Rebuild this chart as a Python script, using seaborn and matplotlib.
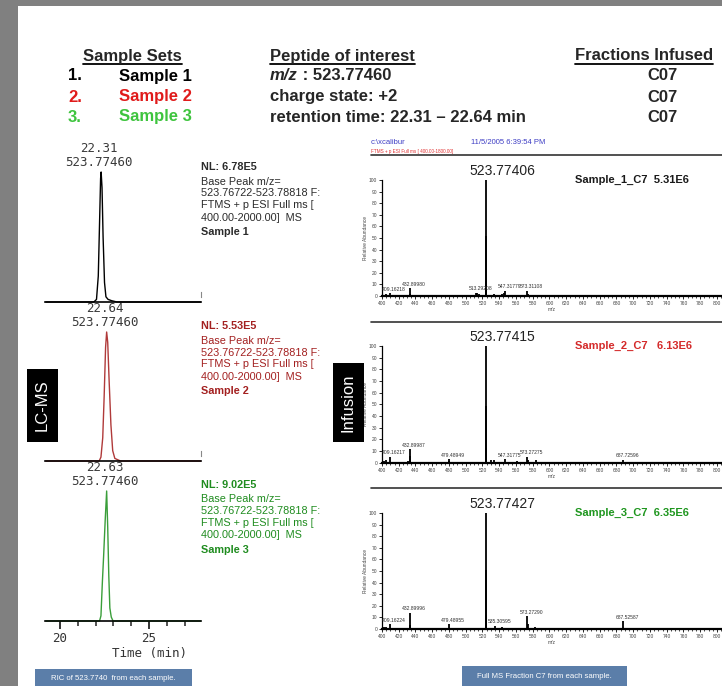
import matplotlib
matplotlib.use("Agg")
import matplotlib.pyplot as plt
import matplotlib.ticker as ticker
from matplotlib.patches import Rectangle
from matplotlib.lines import Line2D
import numpy as np
import seaborn as sns

sns.set_style("white")
plt.rcParams['font.family'] = ['Liberation Sans', 'DejaVu Sans']

W, H = 722, 686

# ---- header ----
sample_names = ["Sample 1", "Sample 2", "Sample 3"]
sample_colors = ["black", "#e01b1b", "#3ec43e"]
peptide_mz = "523.77460"
peptide_lines = ["charge state: +2", "retention time: 22.31 \u2013 22.64 min"]
fractions = ["C07", "C07", "C07"]

# ---- LC-MS chromatograms (RIC of 523.7740), time in min, relative intensity ----
rt_s1 = [19.2, 21.9, 22.05, 22.15, 22.22, 22.28, 22.31, 22.36, 22.42, 22.5, 22.58, 22.7, 22.9, 23.2, 27.9]
int_s1 = [0, 0, 2, 20, 60, 95, 100, 88, 50, 15, 4, 2, 1, 0, 0]
rt_s2 = [19.2, 22.2, 22.3, 22.4, 22.48, 22.56, 22.62, 22.68, 22.76, 22.86, 22.96, 23.08, 23.4, 27.9]
int_s2 = [0, 0, 3, 18, 50, 88, 100, 92, 62, 28, 8, 2, 0, 0]
rt_s3 = [19.2, 22.22, 22.3, 22.38, 22.45, 22.54, 22.62, 22.68, 22.74, 22.8, 22.88, 22.98, 27.9]
int_s3 = [0, 0, 4, 30, 50, 78, 100, 72, 35, 10, 3, 0, 0]
apex_rt = [22.31, 22.63, 22.62]
apex_labels = ["22.31", "22.64", "22.63"]
nl_values = ["NL: 6.78E5", "NL: 5.53E5", "NL: 9.02E5"]
scan_lines = ["Base Peak m/z=", "523.76722-523.78818 F:", "FTMS + p ESI Full ms [", "400.00-2000.00]  MS"]
trace_colors = ["black", "#b03a3a", "#3a9e3a"]
nl_colors = ["#2b2b2b", "#a32020", "#1f8c1f"]

# ---- infusion spectra (fraction C7), m/z and relative abundance ----
mz_s1 = [405.2, 409.16, 420.3, 432.90, 433.40, 470.1, 487.3, 511.8, 513.29, 516.3, 523.77, 524.27,
         524.78, 534.3, 543.2, 545.3, 547.32, 560.4, 573.31, 574.3]
ab_s1 = [1.8, 2.2, 1.0, 6.5, 2.0, 0.7, 0.7, 2.8, 2.5, 1.5, 100, 52, 13, 1.5, 1.5, 2.8, 4.6, 1.0, 4.4, 1.5]
mz_s2 = [402.0, 405.3, 409.16, 420.2, 430.5, 432.90, 433.40, 479.49, 480.0, 512.0, 523.78, 524.27,
         524.78, 530.3, 534.2, 547.32, 548.3, 561.0, 573.27, 574.3, 583.3, 687.73, 688.2, 712.0, 783.0]
ab_s2 = [1.5, 2.0, 5.0, 1.0, 1.5, 11.5, 5.5, 3.0, 1.2, 1.0, 100, 49, 13, 2.0, 2.0, 3.0, 1.0, 1.5,
         5.0, 2.5, 2.0, 2.5, 1.0, 1.0, 0.8]
mz_s3 = [402.0, 405.3, 409.16, 420.5, 430.3, 432.90, 433.40, 479.49, 480.5, 500.4, 510.3, 523.77,
         524.27, 524.78, 535.31, 536.3, 543.3, 545.3, 560.0, 573.27, 574.3, 583.2, 687.53, 688.0, 709.8, 783.0]
ab_s3 = [1.5, 1.5, 4.0, 1.0, 1.0, 14.0, 3.5, 4.0, 1.0, 1.0, 1.2, 100, 51, 12, 2.5, 1.0, 1.5, 1.2,
         1.0, 11.0, 4.0, 1.5, 6.6, 1.0, 1.0, 0.7]
peak_labels_s1 = ["409.16218", "432.89980", "513.29208", "547.31779", "573.31108"]
peak_labels_s2 = ["409.16217", "432.89987", "479.48949", "547.31775", "573.27275", "687.72596"]
peak_labels_s3 = ["409.16224", "432.89996", "479.48955", "535.30595", "573.27290", "687.52587"]
base_peak_labels = ["523.77406", "523.77415", "523.77427"]
spec_titles = ["Sample_1_C7  5.31E6", "Sample_2_C7   6.13E6", "Sample_3_C7  6.35E6"]
spec_title_colors = ["#1a1a1a", "#d42a2a", "#1e961e"]


def fx(x):
    return x / W


def fy(y):
    return 1 - y / H


def box(x0, y0, x1, y1):
    # pixel box -> [left, bottom, width, height] in figure fraction
    return [fx(x0), fy(y1), (x1 - x0) / W, (y1 - y0) / H]


fig = plt.figure(figsize=(W / 100, H / 100), dpi=100)
fig.patch.set_facecolor("#808080")
fig.add_artist(Rectangle((fx(18), 0), 1, fy(6), transform=fig.transFigure, facecolor="white",
                         edgecolor="none", zorder=-10))

# header block
hdr = dict(fontsize=12, weight="bold", va="center")
heads = [fig.text(fx(83), fy(56), "Sample Sets", **hdr),
         fig.text(fx(270), fy(56), "Peptide of interest", **hdr),
         fig.text(fx(575), fy(56), "Fractions Infused", **hdr)]
rows_y = [76, 97, 117]
for i, (name, col) in enumerate(zip(sample_names, sample_colors)):
    fig.text(fx(68), fy(rows_y[i]), f"{i + 1}.", color=col, **hdr)
    fig.text(fx(119), fy(rows_y[i]), name, color=col, **hdr)
    fig.text(fx(662), fy(rows_y[i]), fractions[i], ha="center", **hdr)
mz_txt = fig.text(fx(270), fy(rows_y[0]), "m/z", style="italic", **hdr)
for j, line in enumerate(peptide_lines):
    fig.text(fx(270), fy(rows_y[j + 1]), line, **hdr)

fig.canvas.draw()
rend = fig.canvas.get_renderer()
bb = mz_txt.get_window_extent(rend)
fig.text(bb.x1 / W, fy(rows_y[0]), " : " + peptide_mz, **hdr)
for t in heads:
    b = t.get_window_extent(rend)
    fig.add_artist(Line2D([b.x0 / W, b.x1 / W], [fy(63.5)] * 2, color="black", lw=1.3))

# chromatograms
chrom = [(rt_s1, int_s1), (rt_s2, int_s2), (rt_s3, int_s3)]
chrom_top = [172, 332, 491]
chrom_bot = [302, 461, 621]
nl_y = [167, 326, 485]
nl_off = [0, 14.5, 26.5, 38.5, 50.5, 65]
mono = "DejaVu Sans Mono"
for i, (rt, inten) in enumerate(chrom):
    ax = fig.add_axes(box(45, chrom_top[i], 201, chrom_bot[i]))
    sns.lineplot(x=rt, y=inten, ax=ax, color=trace_colors[i], lw=1.0, clip_on=False)
    ax.set_xlim(19.157, 27.92)
    ax.set_ylim(0, 100)
    ax.set_facecolor("none")
    for s in ["left", "top"]:
        ax.spines[s].set_visible(False)
    ax.spines["bottom"].set_color("black")
    ax.spines["bottom"].set_linewidth(1.2)
    ax.set_yticks([])
    ax.set_ylabel("")
    if i < 2:
        ax.spines["right"].set_bounds(4, 8)
        ax.spines["right"].set_color("#888888")
        ax.spines["right"].set_linewidth(0.8)
        ax.set_xticks([])
    else:
        ax.spines["right"].set_visible(False)
        ax.xaxis.set_major_locator(ticker.FixedLocator([20, 25]))
        ax.xaxis.set_minor_locator(ticker.FixedLocator([21, 22, 23, 24, 26, 27]))
        ax.tick_params(axis="x", which="major", bottom=True, length=6, width=1.4, pad=2,
                       labelsize=9, colors="#333333")
        ax.tick_params(axis="x", which="minor", bottom=True, length=3.5, width=1.2, color="#333333")
        for lab in ax.get_xticklabels():
            lab.set_family(mono)
        ax.set_xlabel("Time (min)", family=mono, fontsize=9, color="#333333")
        ax.xaxis.set_label_coords((149 - 45) / 156, -(653 - 621) / 130)
        ax.xaxis.label.set_va("center")
    ax.annotate(apex_labels[i] + "\n" + peptide_mz, xy=(apex_rt[i], 100), xytext=(-1.5, 2),
                textcoords="offset points", ha="center", va="bottom", family=mono, fontsize=9,
                color="#3a3a3a", linespacing=1.15, annotation_clip=False)
    # scan info block
    fig.text(fx(201), fy(nl_y[i] + nl_off[0]), nl_values[i], color=nl_colors[i], fontsize=7.8,
             weight="bold", va="center")
    for k, line in enumerate(scan_lines):
        fig.text(fx(201), fy(nl_y[i] + nl_off[k + 1]), line, color=nl_colors[i], fontsize=7.8, va="center")
    fig.text(fx(201), fy(nl_y[i] + nl_off[5]), sample_names[i], color=nl_colors[i], fontsize=7.8,
             weight="bold", va="center")

# side labels
for (x0, y0, x1, y1), lbl in [((27, 369, 58, 442), "LC-MS"), ((333, 363, 364, 442), "Infusion")]:
    fig.add_artist(Rectangle((fx(x0), fy(y1)), (x1 - x0) / W, (y1 - y0) / H, transform=fig.transFigure,
                             facecolor="black", edgecolor="none"))
    fig.text(fx((x0 + x1) / 2), fy((y0 + y1) / 2), lbl, rotation=90, color="white", fontsize=12,
             ha="center", va="center")

# spectrum header text
fig.text(fx(371), fy(142), "c:\\xcalibur", color="#3d3dc4", fontsize=5.5, va="center")
fig.text(fx(471), fy(142), "11/5/2005 6:39:54 PM", color="#3d3dc4", fontsize=5.5, va="center")
fig.text(fx(371), fy(151.5), "FTMS + p ESI Full ms [ 400.00-1800.00]", color="#e03030", fontsize=3.3,
         va="center")
for y in [155, 322, 488]:
    fig.add_artist(Line2D([fx(371), 1], [fy(y)] * 2, color="#333333", lw=1.2))

# spectra
spectra = [(mz_s1, ab_s1, peak_labels_s1), (mz_s2, ab_s2, peak_labels_s2), (mz_s3, ab_s3, peak_labels_s3)]
spec_top = [180, 346, 513]
spec_bot = [296, 462.7, 629]
for i, (mz, ab, labels) in enumerate(spectra):
    ax = fig.add_axes(box(382, spec_top[i], 722, spec_bot[i]))
    ax.set_facecolor("none")
    ax.vlines(mz, 0, ab, color="black", lw=1.3)
    ax.set_xlim(400, 806)
    ax.set_ylim(0, 100)
    for s in ["top", "right"]:
        ax.spines[s].set_visible(False)
    ax.spines["left"].set_linewidth(0.9)
    ax.spines["bottom"].set_linewidth(1.6)
    ax.spines["left"].set_color("black")
    ax.spines["bottom"].set_color("black")
    ax.xaxis.set_major_locator(ticker.MultipleLocator(20))
    ax.xaxis.set_minor_locator(ticker.MultipleLocator(5))
    ax.yaxis.set_major_locator(ticker.MultipleLocator(10))
    ax.tick_params(axis="both", which="major", length=2.5, width=0.7, pad=1, labelsize=3.5,
                   labelcolor="#444444", bottom=True, left=True)
    ax.tick_params(axis="x", which="minor", length=1.6, width=0.6, bottom=True)
    ax.set_xlabel("m/z", fontsize=3.5, labelpad=1, color="#444444")
    ax.set_ylabel("Relative Abundance", fontsize=3.5, labelpad=1, color="#444444")
    for lbl in labels:
        pos = float(lbl)
        k = int(np.argmin(np.abs(np.array(mz) - pos)))
        ax.annotate(lbl, xy=(mz[k], ab[k]), xytext=(3, 1.2), textcoords="offset points",
                    ha="center", va="bottom", fontsize=3.6, color="#333333")
    k = int(np.argmax(ab))
    ax.annotate(base_peak_labels[i], xy=(mz[k], ab[k]), xytext=(12.2, 6.5), textcoords="offset points",
                ha="center", va="center", fontsize=10, color="#222222", annotation_clip=False)
    ax.text(0.567, 1.0, spec_titles[i], transform=ax.transAxes, fontsize=8, weight="bold",
            color=spec_title_colors[i], ha="left", va="center")

# caption boxes
for (x0, y0, x1), txt in [((35, 669, 192), "RIC of 523.7740  from each sample."),
                          ((462, 666, 627), "Full MS Fraction C7 from each sample.")]:
    fig.add_artist(Rectangle((fx(x0), 0), (x1 - x0) / W, fy(y0), transform=fig.transFigure,
                             facecolor="#5b7ea9", edgecolor="none"))
    fig.text(fx((x0 + x1) / 2), fy((y0 + 686) / 2 + 1), txt, color="white", fontsize=5.6,
             ha="center", va="center")

fig.savefig("out.png", dpi=100, facecolor=fig.get_facecolor())
